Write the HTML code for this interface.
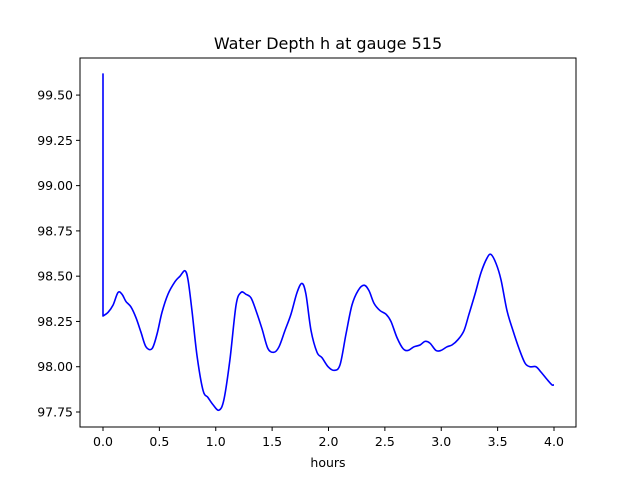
<!DOCTYPE html>
<html><head><meta charset="utf-8"><style>
body{margin:0;background:#fff;}
svg{display:block;font-family:"DejaVu Sans","Liberation Sans",sans-serif;}
</style></head><body>
<svg id="chart" width="640" height="480" viewBox="0 0 640 480"></svg>
<script>
const hours=[0,0,.044,.089,.133,.169,.204,.248,.293,.337,.381,.435,.479,.523,.576,.639,.683,.727,.754,.789,.834,.887,.931,.976,1.029,1.073,1.126,1.180,1.224,1.268,1.313,1.357,1.410,1.463,1.517,1.561,1.614,1.667,1.721,1.765,1.800,1.845,1.898,1.942,1.996,2.049,2.102,2.155,2.208,2.262,2.315,2.359,2.404,2.457,2.510,2.554,2.608,2.661,2.705,2.758,2.812,2.856,2.900,2.953,2.998,3.051,3.095,3.149,3.202,3.246,3.299,3.353,3.406,3.441,3.486,3.530,3.583,3.636,3.690,3.743,3.787,3.840,3.885,3.938,3.982,4.0];
const depth=[99.62,98.28,98.30,98.34,98.41,98.40,98.36,98.33,98.27,98.19,98.11,98.10,98.18,98.30,98.40,98.47,98.50,98.53,98.48,98.31,98.06,97.87,97.83,97.79,97.76,97.82,98.04,98.34,98.41,98.40,98.38,98.31,98.21,98.10,98.08,98.11,98.20,98.29,98.41,98.46,98.40,98.20,98.08,98.05,98.00,97.98,98.01,98.18,98.34,98.42,98.45,98.42,98.35,98.31,98.29,98.25,98.16,98.10,98.09,98.11,98.12,98.14,98.13,98.09,98.09,98.11,98.12,98.15,98.20,98.29,98.40,98.52,98.60,98.62,98.57,98.48,98.31,98.20,98.10,98.02,98.00,98.00,97.97,97.93,97.90,97.90];
const xTicks=[0,0.5,1,1.5,2,2.5,3,3.5,4];
const xTickLabels=["0.0","0.5","1.0","1.5","2.0","2.5","3.0","3.5","4.0"];
const yTicks=[97.75,98,98.25,98.5,98.75,99,99.25,99.5];
const yTickLabels=["97.75","98.00","98.25","98.50","98.75","99.00","99.25","99.50"];
const L=80,R=576,T=58,B=427;
const xs=v=>103+v*112.75;
const ys=v=>412-(v-97.75)*181.1;
const svg=document.getElementById('chart');
const NS='http://www.w3.org/2000/svg';
function mk(t,a,txt){const e=document.createElementNS(NS,t);for(const k in a)e.setAttribute(k,a[k]);if(txt!=null)e.textContent=txt;svg.appendChild(e);return e;}
let e=mk('rect',{x:L,y:T,width:R-L,height:B-T,fill:'none',stroke:'#000','stroke-width':1});


xTicks.forEach((v,i)=>{
 let t=mk('line',{x1:xs(v),x2:xs(v),y1:B,y2:B+4,stroke:'#000'});
 
 
 let l=mk('text',{x:xs(v),y:B+19,'font-size':12.5,'text-anchor':'middle'},xTickLabels[i]);
 
 
});
yTicks.forEach((v,i)=>{
 let t=mk('line',{x1:L-4,x2:L,y1:ys(v),y2:ys(v),stroke:'#000'});
 
 
 let l=mk('text',{x:L-7,y:ys(v)+4.5,'font-size':12.5,'text-anchor':'end'},yTickLabels[i]);
 
 
});
const P=hours.map((h,i)=>[xs(h),ys(depth[i])]);
let d='M'+P[0][0]+','+P[0][1]+' L'+P[1][0]+','+P[1][1];
for(let i=1;i<P.length-1;i++){
 const p0=P[Math.max(1,i-1)],p1=P[i],p2=P[i+1],p3=P[Math.min(P.length-1,i+2)];
 const c1=[p1[0]+(p2[0]-p0[0])/6,p1[1]+(p2[1]-p0[1])/6];
 const c2=[p2[0]-(p3[0]-p1[0])/6,p2[1]-(p3[1]-p1[1])/6];
 d+=' C'+c1[0]+','+c1[1]+' '+c2[0]+','+c2[1]+' '+p2[0]+','+p2[1];
}
let p=mk('path',{d:d,fill:'none',stroke:'#0000ff','stroke-width':1.6,'stroke-linejoin':'round'});


let ti=mk('text',{x:328,y:49,'font-size':16,'text-anchor':'middle'},'Water Depth h at gauge 515');


let xl=mk('text',{x:328,y:467,'font-size':12.5,'text-anchor':'middle'},'hours');


</script>
</body></html>
